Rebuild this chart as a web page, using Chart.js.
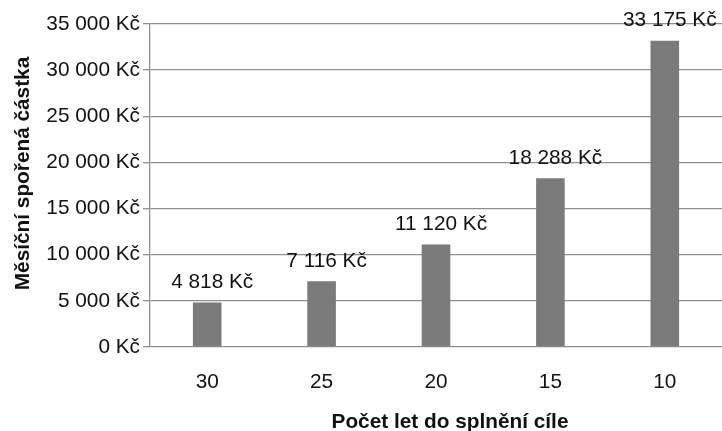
<!DOCTYPE html>
<html>
<head>
<meta charset="utf-8">
<script src="https://cdn.jsdelivr.net/npm/chart.js@4/dist/chart.umd.min.js"></script>
<style>
html,body{margin:0;padding:0;background:#fff;}
#wrap{width:722px;height:431px;position:relative;}
</style>
</head>
<body>
<div id="wrap"><canvas id="c" width="722" height="431"></canvas></div>
<script>
const categories = ["30", "25", "20", "15", "10"];
const values = [4818, 7116, 11120, 18288, 33175];
const yTicks = [0, 5000, 10000, 15000, 20000, 25000, 30000, 35000];
const xTitle = "Počet let do splnění cíle";
const yTitle = "Měsíční spořená částka";

function fmt(v){
  return String(Math.round(v)).replace(/\B(?=(\d{3})+(?!\d))/g, " ") + " Kč";
}

const FONT = "'Liberation Sans', Arial, sans-serif";
const FS = 20.8;

const labelPlugin = {
  id: 'barLabels',
  afterDatasetsDraw(chart){
    const ctx = chart.ctx;
    const meta = chart.getDatasetMeta(0);
    ctx.save();
    ctx.font = FS + "px " + FONT;
    ctx.fillStyle = "#111";
    ctx.textAlign = "center";
    ctx.textBaseline = "alphabetic";
    meta.data.forEach((bar, i) => {
      ctx.fillText(fmt(values[i]), bar.x + 5, bar.y - 14.5);
    });
    ctx.restore();
  },
  afterDraw(chart){
    const ctx = chart.ctx;
    const area = chart.chartArea;
    ctx.save();
    ctx.font = "bold " + FS + "px " + FONT;
    ctx.fillStyle = "#111";
    ctx.textAlign = "center";
    ctx.textBaseline = "alphabetic";
    ctx.fillText(xTitle, (area.left + area.right) / 2 + 14, 428);
    ctx.translate(28.5, (area.top + area.bottom) / 2 - 12);
    ctx.rotate(-Math.PI / 2);
    ctx.fillText(yTitle, 0, 0);
    ctx.restore();
  }
};

new Chart(document.getElementById('c'), {
  type: 'bar',
  data: {
    labels: categories,
    datasets: [{
      data: values,
      backgroundColor: '#7b7b7b',
      borderWidth: 0,
      barPercentage: 0.25,
      categoryPercentage: 1
    }]
  },
  options: {
    responsive: false,
    animation: false,
    devicePixelRatio: 1,
    layout: { padding: { top: 24, right: 0, left: 0, bottom: 0 } },
    plugins: { legend: { display: false }, tooltip: { enabled: false } },
    scales: {
      x: {
        grid: { display: false, drawTicks: false },
        border: { display: false },
        ticks: { color: '#111', font: { size: FS, family: FONT }, padding: 23, maxRotation: 0 },
        afterFit(s){ s.height = 84; }
      },
      y: {
        min: 0, max: 35000,
        afterBuildTicks(s){ s.ticks = yTicks.map(v => ({ value: v })); },
        grid: { color: '#8f8f8f', lineWidth: 1.3, tickLength: 7, drawTicks: true },
        border: { color: '#8f8f8f', width: 1.3 },
        ticks: { color: '#111', font: { size: FS, family: FONT }, padding: 3, callback: v => fmt(v) },
        afterFit(s){ s.width = 150; }
      }
    }
  },
  plugins: [labelPlugin]
});
</script>
</body>
</html>
